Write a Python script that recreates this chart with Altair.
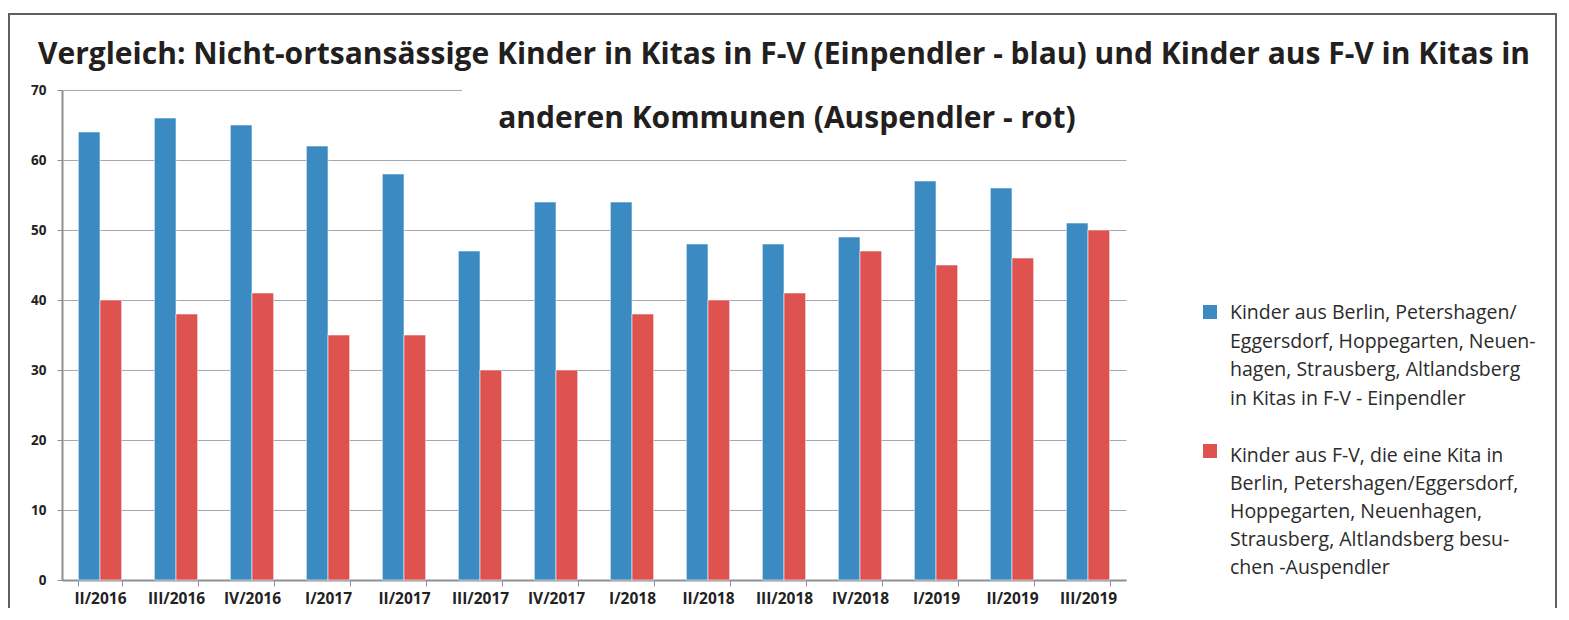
import altair as alt
import pandas as pd

quarters = ["II/2016", "III/2016", "IV/2016", "I/2017", "II/2017", "III/2017", "IV/2017",
            "I/2018", "II/2018", "III/2018", "IV/2018", "I/2019", "II/2019", "III/2019"]
einpendler = [64, 66, 65, 62, 58, 47, 54, 54, 48, 48, 49, 57, 56, 51]
auspendler = [40, 38, 41, 35, 35, 30, 30, 38, 40, 41, 47, 45, 46, 50]
series = ["Einpendler", "Auspendler"]
colors = ["#3B8BC2", "#DE5350"]
legend_lines = [
    "Kinder aus Berlin, Petershagen/|Eggersdorf, Hoppegarten, Neuen-|hagen, Strausberg, Altlandsberg|in Kitas in F-V - Einpendler",
    "Kinder aus F-V, die eine Kita in|Berlin, Petershagen/Eggersdorf,|Hoppegarten, Neuenhagen,|Strausberg, Altlandsberg besu-|chen -Auspendler",
]
title_lines = [
    "Vergleich: Nicht-ortsansässige Kinder in Kitas in F-V (Einpendler - blau) und Kinder aus F-V in Kitas in",
    "anderen Kommunen (Auspendler - rot)",
]

W, H = 1064, 490

df = pd.DataFrame({
    "quarter": quarters * 2,
    "series": [series[0]] * len(quarters) + [series[1]] * len(quarters),
    "value": einpendler + auspendler,
})
color_scale = alt.Scale(domain=series, range=colors)

bars = alt.Chart(df).mark_bar(stroke="#ffffff", strokeWidth=0.8, strokeOpacity=0.7).encode(
    x=alt.X("quarter:N", sort=quarters,
            scale=alt.Scale(paddingInner=0.43, paddingOuter=0.215),
            axis=alt.Axis(title=None, labelAngle=0, tickBand="extent", ticks=True, tickSize=6,
                          tickColor="#8c9094", domainColor="#8c9094", domainWidth=2,
                          labelFont="Open Sans", labelFontWeight="bold", labelFontSize=15.5,
                          labelColor="#222222", labelPadding=5, grid=False)),
    xOffset=alt.XOffset("series:N", sort=series, scale=alt.Scale(paddingInner=0, paddingOuter=0)),
    y=alt.Y("value:Q", scale=alt.Scale(domain=[0, 70]),
            axis=alt.Axis(title=None, values=list(range(0, 71, 10)), tickSize=5,
                          tickColor="#8c9094", domainColor="#8c9094", domainWidth=2,
                          gridColor="#a4a8ac", gridWidth=1.2,
                          labelFont="Open Sans", labelFontWeight="bold", labelFontSize=13.5,
                          labelColor="#222222", labelPadding=11)),
    color=alt.Color("series:N", scale=color_scale, legend=None),
)

box_df = pd.DataFrame({"k": [0]})
white_box = alt.Chart(box_df).mark_rect(color="white").encode(
    x=alt.value(400), x2=alt.value(1080), y=alt.value(-8), y2=alt.value(58)
)

title_df = pd.DataFrame({"line": title_lines, "i": [0, 1]})
title1 = alt.Chart(title_df).transform_filter("datum.i == 0").mark_text(
    font="Open Sans", fontWeight="bold", fontSize=30, color="#231f20", align="center", baseline="alphabetic"
).encode(text="line:N", x=alt.value(722), y=alt.value(-26))
title2 = alt.Chart(title_df).transform_filter("datum.i == 1").mark_text(
    font="Open Sans", fontWeight="bold", fontSize=30, color="#231f20", align="center", baseline="alphabetic"
).encode(text="line:N", x=alt.value(725), y=alt.value(38))

leg_df = pd.DataFrame({"series": series, "label": legend_lines})
leg_sq1 = alt.Chart(leg_df).transform_filter(f"datum.series == '{series[0]}'").mark_square(size=196, opacity=1).encode(
    x=alt.value(1148), y=alt.value(222), color=alt.Color("series:N", scale=color_scale, legend=None))
leg_sq2 = alt.Chart(leg_df).transform_filter(f"datum.series == '{series[1]}'").mark_square(size=196, opacity=1).encode(
    x=alt.value(1148), y=alt.value(361), color=alt.Color("series:N", scale=color_scale, legend=None))
leg_tx1 = alt.Chart(leg_df).transform_filter(f"datum.series == '{series[0]}'").transform_calculate(
    lines="split(datum.label, '|')").mark_text(
    font="Open Sans", fontSize=19.5, color="#2b2b2b", align="left", baseline="alphabetic", lineHeight=28.5
).encode(text="lines:N", x=alt.value(1168), y=alt.value(229))
leg_tx2 = alt.Chart(leg_df).transform_filter(f"datum.series == '{series[1]}'").transform_calculate(
    lines="split(datum.label, '|')").mark_text(
    font="Open Sans", fontSize=19.5, color="#2b2b2b", align="left", baseline="alphabetic", lineHeight=28
).encode(text="lines:N", x=alt.value(1168), y=alt.value(372))

frame = alt.Chart(box_df).mark_rect(filled=False, stroke="#5f5f5f", strokeWidth=2).encode(
    x=alt.value(-53), x2=alt.value(1494), y=alt.value(-76), y2=alt.value(640)
)

chart = alt.layer(bars, white_box, title1, title2, leg_sq1, leg_sq2, leg_tx1, leg_tx2, frame).properties(
    width=W, height=H,
    background="white",
    autosize=alt.AutoSizeParams(type="none"),
    padding={"left": 54, "top": 82, "right": 432, "bottom": 28},
).configure_view(stroke=None)

chart.save("out.html", embed_options={"renderer": "svg", "actions": False})
